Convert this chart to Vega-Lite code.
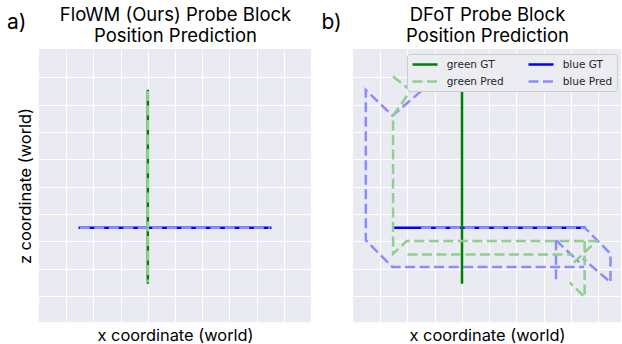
{
  "$schema": "https://vega.github.io/schema/vega-lite/v6.json",
  "background": "white",
  "padding": {"left": 7, "top": 5, "right": 0, "bottom": 0},
  "bounds": "flush",
  "spacing": 42,
  "data": {
    "values": [
      {"p": "a", "s": "green GT", "g": "a1", "i": 0, "x": 4, "z": 1.5},
      {"p": "a", "s": "green GT", "g": "a1", "i": 1, "x": 4, "z": 8.5},
      {"p": "a", "s": "green Pred", "g": "a2", "i": 0, "x": 4, "z": 8.5},
      {"p": "a", "s": "green Pred", "g": "a2", "i": 1, "x": 4, "z": 1.5},
      {"p": "a", "s": "blue GT", "g": "a3", "i": 0, "x": 1.5, "z": 3.5},
      {"p": "a", "s": "blue GT", "g": "a3", "i": 1, "x": 8.5, "z": 3.5},
      {"p": "a", "s": "blue Pred", "g": "a4", "i": 0, "x": 1.5, "z": 3.5},
      {"p": "a", "s": "blue Pred", "g": "a4", "i": 1, "x": 8.5, "z": 3.5},

      {"p": "b", "s": "green GT", "g": "b1", "i": 0, "x": 4, "z": 1.5},
      {"p": "b", "s": "green GT", "g": "b1", "i": 1, "x": 4, "z": 8.5},
      {"p": "b", "s": "blue GT", "g": "b2", "i": 0, "x": 1.5, "z": 3.5},
      {"p": "b", "s": "blue GT", "g": "b2", "i": 1, "x": 8.5, "z": 3.5},

      {"p": "b", "s": "blue Pred", "g": "b3", "i": 0, "x": 2.5, "z": 8.5},
      {"p": "b", "s": "blue Pred", "g": "b3", "i": 1, "x": 1.45, "z": 7.6},
      {"p": "b", "s": "blue Pred", "g": "b3", "i": 2, "x": 0.47, "z": 8.54},
      {"p": "b", "s": "blue Pred", "g": "b3", "i": 3, "x": 0.47, "z": 3.04},
      {"p": "b", "s": "blue Pred", "g": "b3", "i": 4, "x": 1.45, "z": 2.06},
      {"p": "b", "s": "blue Pred", "g": "b3", "i": 5, "x": 8.48, "z": 2.06},
      {"p": "b", "s": "blue Pred", "g": "b4", "i": 0, "x": 2.5, "z": 3.5},
      {"p": "b", "s": "blue Pred", "g": "b4", "i": 1, "x": 8.5, "z": 3.5},
      {"p": "b", "s": "blue Pred", "g": "b4", "i": 2, "x": 9.45, "z": 2.55},
      {"p": "b", "s": "blue Pred", "g": "b4", "i": 3, "x": 9.45, "z": 1.5},
      {"p": "b", "s": "blue Pred", "g": "b4", "i": 4, "x": 8.43, "z": 2.38},
      {"p": "b", "s": "blue Pred", "g": "b5", "i": 0, "x": 7.45, "z": 3.04},
      {"p": "b", "s": "blue Pred", "g": "b5", "i": 1, "x": 7.45, "z": 1.5},
      {"p": "b", "s": "blue Pred", "g": "b6", "i": 0, "x": 7.45, "z": 3.04},
      {"p": "b", "s": "blue Pred", "g": "b6", "i": 1, "x": 8.3, "z": 2.24},

      {"p": "b", "s": "green Pred", "g": "b7", "i": 0, "x": 1.47, "z": 9.03},
      {"p": "b", "s": "green Pred", "g": "b7", "i": 1, "x": 2.12, "z": 8.52},
      {"p": "b", "s": "green Pred", "g": "b7", "i": 2, "x": 1.47, "z": 7.6},
      {"p": "b", "s": "green Pred", "g": "b7", "i": 3, "x": 1.47, "z": 2.55},
      {"p": "b", "s": "green Pred", "g": "b7", "i": 4, "x": 1.97, "z": 3.01},
      {"p": "b", "s": "green Pred", "g": "b7", "i": 5, "x": 8.93, "z": 3.01},
      {"p": "b", "s": "green Pred", "g": "b7", "i": 6, "x": 8.06, "z": 2.18},
      {"p": "b", "s": "green Pred", "g": "b8", "i": 0, "x": 2.0, "z": 2.52},
      {"p": "b", "s": "green Pred", "g": "b8", "i": 1, "x": 8.06, "z": 2.52},
      {"p": "b", "s": "green Pred", "g": "b9", "i": 0, "x": 8.5, "z": 3.01},
      {"p": "b", "s": "green Pred", "g": "b9", "i": 1, "x": 8.5, "z": 0.96},
      {"p": "b", "s": "green Pred", "g": "b9", "i": 2, "x": 7.95, "z": 1.5}
    ]
  },
  "resolve": {
    "scale": {"x": "independent"},
    "legend": {"color": "independent", "strokeDash": "independent"}
  },
  "hconcat": [
    {
      "width": 272,
      "height": 273,
      "title": {"text": "a)", "anchor": "start", "frame": "group", "dx": -32, "dy": 28, "fontSize": 21, "offset": 0},
      "transform": [{"filter": "datum.p === 'a'"}],
      "encoding": {
        "x": {"field": "x", "type": "quantitative", "scale": {"domain": [0, 10], "nice": false, "zero": false}, "axis": null},
        "y": {"field": "z", "type": "quantitative", "scale": {"domain": [0.05, 10.04], "nice": false, "zero": false},
              "axis": {"title": "z coordinate (world)", "values": [1, 2, 3, 4, 5, 6, 7, 8, 9], "grid": true, "titleFontSize": 16.4, "titlePadding": 5.5}},
        "color": {
          "field": "s", "type": "nominal", "legend": null,
          "scale": {"domain": ["green GT", "green Pred", "blue GT", "blue Pred"], "range": ["#008000", "#8fd08f", "#0000ff", "#8c8cff"]}
        },
        "strokeDash": {
          "field": "s", "type": "nominal", "legend": null,
          "scale": {"domain": ["green GT", "green Pred", "blue GT", "blue Pred"], "range": [[1, 0], [10, 4.5], [1, 0], [10, 4.5]]}
        },
        "detail": {"field": "g"},
        "order": {"field": "i", "type": "quantitative"}
      },
      "resolve": {"axis": {"x": "independent"}},
      "layer": [
        {
          "transform": [{"filter": "datum.s === 'blue GT'"}],
          "mark": {"type": "line", "strokeWidth": 2.5, "strokeCap": "square"},
          "encoding": {
            "x": {"field": "x", "type": "quantitative", "scale": {"domain": [0, 10], "nice": false, "zero": false},
                  "axis": {"orient": "bottom", "title": "x coordinate (world)", "values": [1, 2, 3, 4, 5, 6, 7, 8, 9], "grid": true, "titleFontSize": 16.4, "titlePadding": 5}}
          }
        },
        {
          "transform": [{"filter": "datum.s === 'blue Pred'"}],
          "mark": {"type": "line", "strokeWidth": 2.5}
        },
        {
          "transform": [{"filter": "datum.s === 'green GT'"}],
          "mark": {"type": "line", "strokeWidth": 2.5, "strokeCap": "square"}
        },
        {
          "transform": [{"filter": "datum.s === 'green Pred'"}],
          "mark": {"type": "line", "strokeWidth": 2.5},
          "encoding": {
            "x": {"field": "x", "type": "quantitative", "scale": {"domain": [0, 10], "nice": false, "zero": false},
                  "axis": {"orient": "top", "title": ["FloWM (Ours) Probe Block", "Position Prediction"], "grid": false, "titleFontSize": 18.5, "titlePadding": 4, "titleLineHeight": 21}}
          }
        }
      ]
    },
    {
      "width": 268,
      "height": 273,
      "title": {"text": "b)", "anchor": "start", "frame": "group", "dx": -31.5, "dy": 28, "fontSize": 21, "offset": 0},
      "transform": [{"filter": "datum.p === 'b'"}],
      "encoding": {
        "x": {"field": "x", "type": "quantitative", "scale": {"domain": [0, 9.835], "nice": false, "zero": false}, "axis": null},
        "y": {"field": "z", "type": "quantitative", "scale": {"domain": [0.05, 10.04], "nice": false, "zero": false},
              "axis": {"title": null, "values": [1, 2, 3, 4, 5, 6, 7, 8, 9], "grid": true}},
        "color": {
          "field": "s", "type": "nominal",
          "scale": {"domain": ["green GT", "green Pred", "blue GT", "blue Pred"], "range": ["#008000", "#8fd08f", "#0000ff", "#8c8cff"]},
          "legend": {"title": null, "orient": "top-right", "offset": 4.5, "columns": 2, "padding": 4, "rowPadding": 5, "columnPadding": 19,
                     "symbolType": "M-1,0L4,0", "symbolSize": 100, "symbolStrokeWidth": 2.5, "labelOffset": 22.7,
                     "labelFont": "DejaVu Sans", "labelFontSize": 10.5, "labelColor": "#262626",
                     "fillColor": "#ECECF3", "strokeColor": "#CCCCCC", "cornerRadius": 3}
        },
        "strokeDash": {
          "field": "s", "type": "nominal",
          "scale": {"domain": ["green GT", "green Pred", "blue GT", "blue Pred"], "range": [[1, 0], [10, 4.5], [1, 0], [10, 4.5]]},
          "legend": {"title": null, "orient": "top-right", "offset": 4.5, "columns": 2, "padding": 4, "rowPadding": 5, "columnPadding": 19,
                     "symbolType": "M-1,0L4,0", "symbolSize": 100, "symbolStrokeWidth": 2.5, "labelOffset": 22.7,
                     "labelFont": "DejaVu Sans", "labelFontSize": 10.5, "labelColor": "#262626",
                     "fillColor": "#ECECF3", "strokeColor": "#CCCCCC", "cornerRadius": 3}
        },
        "detail": {"field": "g"},
        "order": {"field": "i", "type": "quantitative"}
      },
      "resolve": {"axis": {"x": "independent"}},
      "layer": [
        {
          "transform": [{"filter": "datum.s === 'blue GT'"}],
          "mark": {"type": "line", "strokeWidth": 2.5, "strokeCap": "square"},
          "encoding": {
            "x": {"field": "x", "type": "quantitative", "scale": {"domain": [0, 9.835], "nice": false, "zero": false},
                  "axis": {"orient": "bottom", "title": "x coordinate (world)", "values": [1, 2, 3, 4, 5, 6, 7, 8, 9], "grid": true, "titleFontSize": 16.4, "titlePadding": 5}}
          }
        },
        {
          "transform": [{"filter": "datum.s === 'blue Pred'"}],
          "mark": {"type": "line", "strokeWidth": 2.5}
        },
        {
          "transform": [{"filter": "datum.s === 'green GT'"}],
          "mark": {"type": "line", "strokeWidth": 2.5, "strokeCap": "square"}
        },
        {
          "transform": [{"filter": "datum.s === 'green Pred'"}],
          "mark": {"type": "line", "strokeWidth": 2.5},
          "encoding": {
            "x": {"field": "x", "type": "quantitative", "scale": {"domain": [0, 9.835], "nice": false, "zero": false},
                  "axis": {"orient": "top", "title": ["DFoT Probe Block", "Position Prediction"], "grid": false, "titleFontSize": 18.5, "titlePadding": 4, "titleLineHeight": 21}}
          }
        }
      ]
    }
  ],
  "config": {
    "font": "Inter",
    "view": {"fill": "#EAEAF2", "stroke": null},
    "axis": {"labels": false, "ticks": false, "domain": false, "gridColor": "#ffffff", "gridWidth": 1, "gridOpacity": 1,
             "titleFont": "Inter", "titleFontWeight": "normal", "titleColor": "#000000"},
    "title": {"font": "Inter", "fontWeight": "normal", "color": "#000000"}
  }
}
